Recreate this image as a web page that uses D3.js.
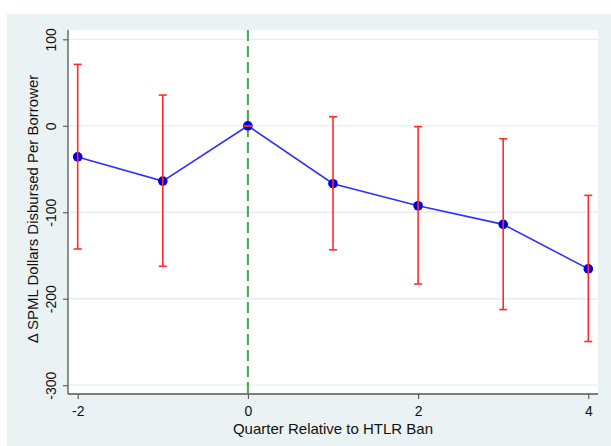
<!DOCTYPE html>
<html>
<head>
<meta charset="utf-8">
<script src="https://cdn.jsdelivr.net/npm/d3@7"></script>
<style>
  html, body { margin: 0; padding: 0; background: #ffffff; }
  svg { display: block; }
  text { font-family: "Liberation Sans", Arial, sans-serif; fill: #111; }
</style>
</head>
<body>
<svg id="chart" width="611" height="446"></svg>
<script>
// Event-study estimates by quarter relative to the ban
const quarters = [-2, -1, 0, 1, 2, 3, 4];
const estimates = [-36, -64, 0, -67, -92.5, -114, -165.5];
const ciLower = [-142.5, -162.5, 0, -143.5, -183, -212.5, -249.5];
const ciUpper = [71, 35.5, 0, 10.5, -1, -15, -80.5];

const xTicks = [-2, 0, 2, 4];
const yTicks = [100, 0, -100, -200, -300];

const xTitle = "Quarter Relative to HTLR Ban";
const yTitle = "\u0394 SPML Dollars Disbursed Per Borrower";

// plain hyphen for negative tick labels
const fmt = d => String(d);

const svg = d3.select("#chart");

// outer graph region
svg.append("rect").attr("x", 7).attr("y", 14).attr("width", 604).attr("height", 432)
  .attr("fill", "#eaf2f4");

// plot region
const plot = { left: 68, right: 598, top: 30, bottom: 394 };
svg.append("rect")
  .attr("x", plot.left).attr("y", plot.top)
  .attr("width", plot.right - plot.left).attr("height", plot.bottom - plot.top)
  .attr("fill", "#ffffff");

const x = d3.scaleLinear().domain([-2, 4]).range([77.7, 588.3]);
const y = d3.scaleLinear().domain([-300, 100]).range([385.2, 39.3]);

// horizontal gridlines
svg.append("g").selectAll("line").data(yTicks).join("line")
  .attr("x1", plot.left).attr("x2", plot.right)
  .attr("y1", d => y(d)).attr("y2", d => y(d))
  .attr("stroke", "#e4edf0").attr("stroke-width", 1.3);

// reference line at the ban quarter
svg.append("line")
  .attr("x1", x(0)).attr("x2", x(0))
  .attr("y1", plot.top).attr("y2", plot.bottom)
  .attr("stroke", "#4aa84a").attr("stroke-width", 2)
  .attr("stroke-dasharray", "11,5");

// y axis
const yAxis = d3.axisLeft(y).tickValues(yTicks).tickSize(5).tickPadding(7).tickFormat(fmt);
const gy = svg.append("g").attr("transform", `translate(${plot.left},0)`).call(yAxis);
gy.select(".domain").remove();
gy.append("line").attr("x1", 0).attr("x2", 0).attr("y1", plot.top).attr("y2", plot.bottom)
  .attr("stroke", "#555").attr("stroke-width", 1.3);
gy.selectAll(".tick line").attr("stroke", "#555").attr("stroke-width", 1.1);
gy.selectAll(".tick text")
  .attr("font-size", 14)
  .attr("fill", "#111")
  .attr("text-anchor", "middle")
  .attr("dy", 0)
  .attr("x", 0)
  .attr("transform", "translate(-12,0) rotate(-90)");

// x axis
const xAxis = d3.axisBottom(x).tickValues(xTicks).tickSize(5).tickPadding(7).tickFormat(fmt);
const gx = svg.append("g").attr("transform", `translate(0,${plot.bottom})`).call(xAxis);
gx.select(".domain").remove();
gx.append("line").attr("x1", plot.left).attr("x2", plot.right).attr("y1", 0).attr("y2", 0)
  .attr("stroke", "#555").attr("stroke-width", 1.3);
gx.selectAll(".tick line").attr("stroke", "#555").attr("stroke-width", 1.1);
gx.selectAll(".tick text").attr("font-size", 14).attr("fill", "#111");

// axis titles
svg.append("text")
  .attr("x", (plot.left + plot.right) / 2).attr("y", 433.5)
  .attr("text-anchor", "middle").attr("font-size", 15)
  .text(xTitle);
svg.append("text")
  .attr("transform", `translate(38,${(plot.top + plot.bottom) / 2 - 3}) rotate(-90)`)
  .attr("text-anchor", "middle").attr("font-size", 15)
  .text(yTitle);

const data = quarters.map((q, i) => ({ q, est: estimates[i], lo: ciLower[i], hi: ciUpper[i] }));

// connecting line
svg.append("path").datum(data)
  .attr("fill", "none").attr("stroke", "#2f2fff").attr("stroke-width", 1.6)
  .attr("d", d3.line().x(d => x(d.q)).y(d => y(d.est)));

// point estimates
svg.append("g").selectAll("circle").data(data).join("circle")
  .attr("cx", d => x(d.q)).attr("cy", d => y(d.est)).attr("r", 4.8)
  .attr("fill", "#0000dd");

// confidence intervals
const bars = svg.append("g").attr("stroke", "#ff2b2b").attr("stroke-width", 1.6);
bars.selectAll("line.v").data(data).join("line").attr("class", "v")
  .attr("x1", d => x(d.q)).attr("x2", d => x(d.q))
  .attr("y1", d => y(d.lo)).attr("y2", d => y(d.hi));
bars.selectAll("line.top").data(data).join("line").attr("class", "top")
  .attr("x1", d => x(d.q) - 4).attr("x2", d => x(d.q) + 4)
  .attr("y1", d => y(d.hi)).attr("y2", d => y(d.hi));
bars.selectAll("line.bot").data(data).join("line").attr("class", "bot")
  .attr("x1", d => x(d.q) - 4).attr("x2", d => x(d.q) + 4)
  .attr("y1", d => y(d.lo)).attr("y2", d => y(d.lo));
</script>
</body>
</html>
